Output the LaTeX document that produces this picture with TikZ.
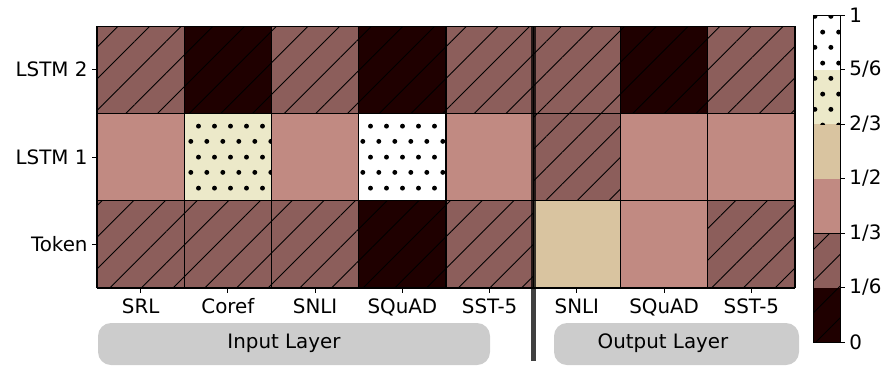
\documentclass[tikz,border=0pt]{standalone}
\usepackage{fontspec}
\setmainfont{DejaVu Sans}
\usepackage{xcolor}
\usepackage{tikz}
\usetikzlibrary{patterns.meta}

\definecolor{heatdark}{RGB}{31,0,0}
\definecolor{heatbrown}{RGB}{140,94,91}
\definecolor{heatpink}{RGB}{193,138,130}
\definecolor{heattan}{RGB}{217,196,160}
\definecolor{heatcream}{RGB}{236,233,201}
\definecolor{groupgray}{RGB}{204,204,204}

% staggered dots for the two top bins
\tikzdeclarepattern{
  name=staggered dots,
  type=uncolored,
  bottom left={(0cm,0cm)},
  top right={(0.312cm,0.624cm)},
  tile size={(0.312cm,0.624cm)},
  code={
    \fill (0.078cm,0.156cm) circle [radius=0.05cm];
    \fill (0.234cm,0.468cm) circle [radius=0.05cm];
  }
}

\begin{document}
\begin{tikzpicture}[font=\fontsize{11.3}{13.5}\selectfont,
    hatch/.style={postaction={pattern={Lines[angle=45,distance=0.448cm,line width=0.5pt]}, pattern color=black}},
    spots/.style={postaction={pattern=staggered dots, pattern color=black}},
    cell d/.style={fill=heatdark, hatch},
    cell h/.style={fill=heatbrown, hatch},
    cell p/.style={fill=heatpink},
    cell t/.style={fill=heattan},
    cell c/.style={fill=heatcream, spots},
    cell w/.style={fill=white, spots},
    cellline/.style={line width=0.6pt},
    tick/.style={line width=0.5pt},
    group/.style={fill=groupgray, rounded corners=0.26cm},
    divider/.style={draw=black, opacity=0.75, line width=0.1cm}
]

\clip (0,0) rectangle (17.68,7.32);

% heatmap, one unit per cell
\begin{scope}[shift={(1.94cm,1.56cm)}, x=1.745cm, y=1.746cm]
  \foreach \row/\cells in {0/{h,h,h,d,h,t,p,h}, 1/{p,c,p,w,p,h,p,p}, 2/{h,d,h,d,h,h,d,h}}
    \foreach \c [count=\i from 0] in \cells
      \path[cell \c] (\i,\row) rectangle ++(1,1);
  \foreach \i in {0,...,8}
    \draw[cellline] (\i,0) -- (\i,3);
  \foreach \row in {0,...,3}
    \draw[cellline] (0,\row) -- (8,\row);

  \foreach \lab [count=\row from 0] in {Token, LSTM 1, LSTM 2}
    \draw[tick] (0,\row+0.5) -- ++(-0.1cm,0)
      node[anchor=east, inner sep=0pt, xshift=-0.08cm] (ylab\row) {\lab};
  \foreach \lab [count=\i from 0] in {SRL, Coref, SNLI, SQuAD, SST-5, SNLI, SQuAD, SST-5}
    \draw[tick] (\i+0.5,0) -- ++(0,-0.1cm)
      node[anchor=base, inner sep=0pt, yshift=-0.4cm] (xlab\i) {\lab};
\end{scope}

% task groups
\fill[group] (1.96,0.86) rectangle (9.8,0.02);
\node (inputlayer) at (5.68,0.46) {Input Layer};
\fill[group] (11.08,0.86) rectangle (15.98,0.02);
\node (outputlayer) at (13.26,0.46) {Output Layer};

\draw[divider] (10.665,6.8) -- (10.665,0.1);

% colorbar
\begin{scope}[shift={(16.26cm,0.48cm)}, x=0.54cm, y=1.09cm]
  \foreach \c [count=\k from 0] in {d,h,p,t,c,w}
    \path[cell \c] (0,\k) rectangle ++(1,1);
  \draw[tick] (0,2) -- (1,2);
  \draw[tick] (0,0) rectangle (1,6);
  \draw[tick] (1,0) -- ++(0.1cm,0) node[right, inner sep=0pt, xshift=0.08cm] (cb0) {0};
  \foreach \num/\den [count=\k from 1] in {1/6,1/3,1/2,2/3,5/6}
    \draw[tick] (1,\k) -- ++(0.1cm,0)
      node[right, inner sep=0pt, xshift=0.08cm] (cb\k) {\num/\den};
  \draw[tick] (1,6) -- ++(0.1cm,0) node[right, inner sep=0pt, xshift=0.08cm] (cb6) {1};
\end{scope}

\end{tikzpicture}
\end{document}
